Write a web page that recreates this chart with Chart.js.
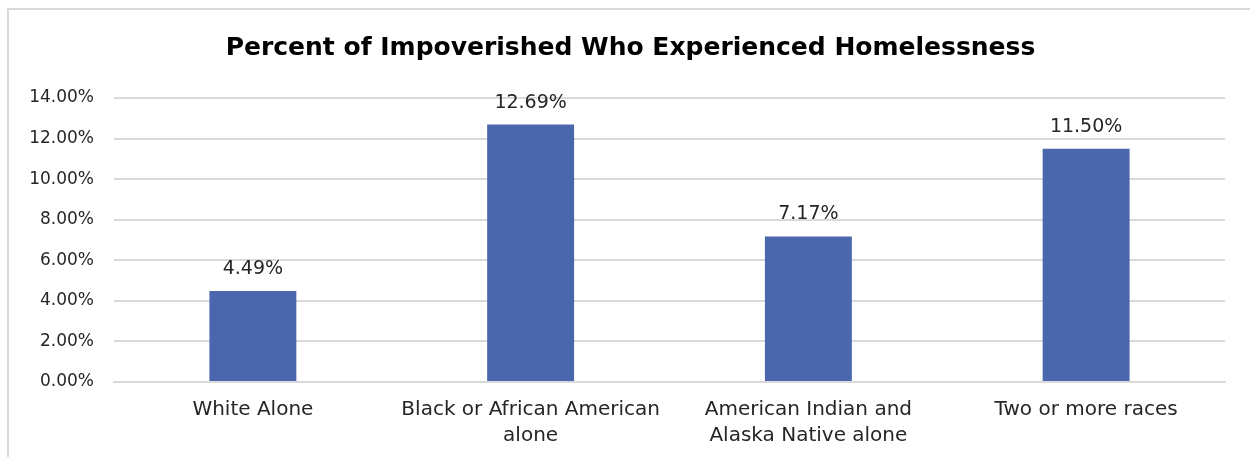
<!DOCTYPE html>
<html>
<head>
<meta charset="utf-8">
<script src="https://cdn.jsdelivr.net/npm/chart.js@4"></script>
<style>
  html, body { margin: 0; padding: 0; background: #fff; overflow: hidden; }
  #wrap { position: relative; width: 1250px; height: 457px; }
</style>
</head>
<body>
<div id="wrap"><canvas id="mycanvas" width="1250" height="457"></canvas></div>
<script>
var categories = [['White Alone'], ['Black or African American', 'alone'], ['American Indian and', 'Alaska Native alone'], ['Two or more races']];
var rating = [4.49, 12.69, 7.17, 11.50];
var yTicks = [0, 2, 4, 6, 8, 10, 12, 14];

var fontName = '"DejaVu Sans", sans-serif';

// outer frame like the spreadsheet chart box
var framePlugin = {
  id: 'frame',
  beforeDraw: function(chart) {
    var c = chart.ctx;
    c.save();
    c.fillStyle = '#fff';
    c.fillRect(0, 0, chart.width, chart.height);
    c.strokeStyle = '#d9d9d9';
    c.lineWidth = 2;
    c.strokeRect(8, 9, chart.width + 20, chart.height + 20);
    c.restore();
  },
  // title sits a bit right of the canvas centre in the original
  afterLayout: function(chart) {
    if (chart.titleBlock) chart.titleBlock.left += 36;
  }
};

// value labels on top of the bars
var valuePlugin = {
  id: 'values',
  afterDatasetsDraw: function(chart) {
    var c = chart.ctx;
    var meta = chart.getDatasetMeta(0);
    c.save();
    c.font = '19px ' + fontName;
    c.fillStyle = '#262626';
    c.textAlign = 'center';
    c.textBaseline = 'middle';
    meta.data.forEach(function(bar, i) {
      c.fillText(rating[i].toFixed(2) + '%', bar.x, bar.y - 22);
    });
    c.restore();
  }
};

var ctx = document.getElementById('mycanvas');
var barGraph = new Chart(ctx, {
  type: 'bar',
  data: {
    labels: categories,
    datasets: [{
      label: 'Rating',
      backgroundColor: '#4a66ac',
      data: rating,
      categoryPercentage: 1,
      barPercentage: 0.313
    }]
  },
  options: {
    responsive: false,
    animation: false,
    layout: { padding: { left: 0, right: 25, top: 33, bottom: 0 } },
    plugins: {
      legend: { display: false },
      tooltip: { enabled: false },
      title: {
        display: true,
        text: 'Percent of Impoverished Who Experienced Homelessness',
        color: '#000',
        font: { family: fontName, size: 25, weight: 'bold' },
        padding: { top: 0, bottom: 35 }
      }
    },
    scales: {
      x: {
        afterFit: function(scale) { scale.height = 75; },
        grid: { display: false, drawTicks: false },
        border: { display: true, color: '#d9d9d9', width: 2 },
        ticks: {
          color: '#262626',
          font: { family: fontName, size: 20, lineHeight: 1.3 },
          padding: 15,
          maxRotation: 0,
          autoSkip: false
        }
      },
      y: {
        min: 0,
        max: 14,
        afterFit: function(scale) { scale.width = 114; },
        afterBuildTicks: function(scale) {
          scale.ticks = yTicks.map(function(v) { return { value: v }; });
        },
        grid: { color: '#d9d9d9', lineWidth: 2, drawTicks: false },
        border: { display: false },
        ticks: {
          color: '#262626',
          font: { family: fontName, size: 17 },
          padding: 20,
          callback: function(v) { return v.toFixed(2) + '%'; }
        }
      }
    }
  },
  plugins: [framePlugin, valuePlugin]
});
</script>
</body>
</html>
